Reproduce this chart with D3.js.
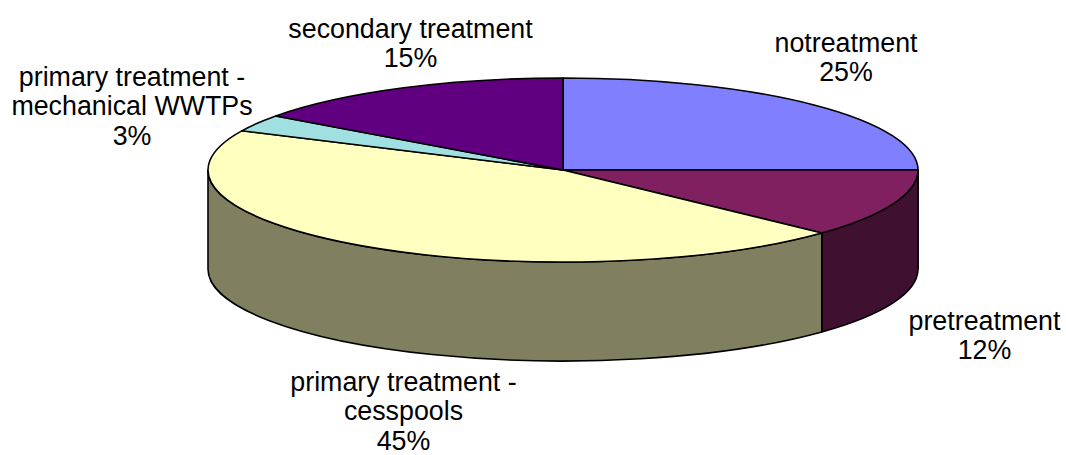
<!DOCTYPE html>
<html><head><meta charset="utf-8">
<script src="https://cdn.jsdelivr.net/npm/d3@7"></script>
<style>html,body{margin:0;padding:0;background:#fff;}svg{display:block;}</style>
</head><body>
<svg id="chart" width="1066" height="455"></svg>
<script>
const categories = ["notreatment", "pretreatment", "primary treatment - cesspools", "primary treatment - mechanical WWTPs", "secondary treatment"];
const values = [25, 12, 45, 3, 15];
const labelLines = [["notreatment"], ["pretreatment"], ["primary treatment -", "cesspools"], ["primary treatment -", "mechanical WWTPs"], ["secondary treatment"]];
const topColors = ["#8080FF", "#802060", "#FFFFC0", "#A0E0E0", "#600080"];
const sideColors = ["#404080", "#401030", "#808060", "#507070", "#300040"];

// layout
const cx = 563, cy = 170, rx = 355, ry = 92, depth = 99;
const labelAnchors = [[846, 52], [984.5, 330], [403.5, 391], [132, 86], [410.5, 38]];
const lineH = 29.3;

const svg = d3.select("#chart");
const pie = d3.pie().sort(null).value(d => d).startAngle(0).endAngle(2 * Math.PI);
const arcs = pie(values);
const total = d3.sum(values);

const px = a => cx + rx * Math.sin(a);
const py = (a, dz = 0) => cy - ry * Math.cos(a) + dz;

function topPath(a0, a1) {
  const large = (a1 - a0) > Math.PI ? 1 : 0;
  return `M${cx},${cy}L${px(a0)},${py(a0)}A${rx},${ry} 0 ${large} 1 ${px(a1)},${py(a1)}Z`;
}
function sidePath(a0, a1) {
  const s = Math.max(a0, Math.PI / 2), e = Math.min(a1, 3 * Math.PI / 2);
  if (s >= e) return null;
  return `M${px(s)},${py(s)}A${rx},${ry} 0 0 1 ${px(e)},${py(e)}` +
         `L${px(e)},${py(e, depth)}A${rx},${ry} 0 0 0 ${px(s)},${py(s, depth)}Z`;
}

const g = svg.append("g");
// sides
arcs.forEach((d, i) => {
  const p = sidePath(d.startAngle, d.endAngle);
  if (p) g.append("path").attr("d", p).attr("fill", sideColors[i])
    .attr("stroke", "#000").attr("stroke-width", 1.6).attr("stroke-linejoin", "round");
});
// tops
arcs.forEach((d, i) => {
  g.append("path").attr("d", topPath(d.startAngle, d.endAngle)).attr("fill", topColors[i])
    .attr("stroke", "#000").attr("stroke-width", 1.6).attr("stroke-linejoin", "round");
});

// labels
const fmt = d3.format(".0%");
arcs.forEach((d, i) => {
  const lines = labelLines[i].concat([fmt(values[i] / total)]);
  const t = svg.append("text")
    .attr("x", labelAnchors[i][0]).attr("y", labelAnchors[i][1])
    .attr("text-anchor", "middle")
    .attr("font-family", "'Liberation Sans', Arial, sans-serif")
    .attr("font-size", 26.8).attr("fill", "#000");
  lines.forEach((ln, j) => {
    t.append("tspan").attr("x", labelAnchors[i][0]).attr("dy", j === 0 ? 0 : lineH).text(ln);
  });
});
</script>
</body></html>
